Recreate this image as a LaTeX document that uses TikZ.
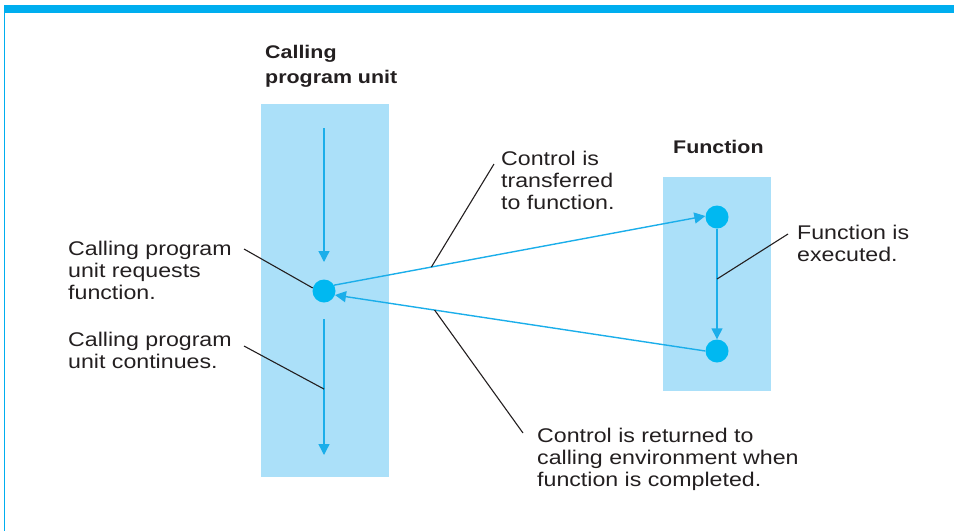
\documentclass[tikz,border=0pt]{standalone}
\usepackage{fontspec}
\setmainfont{Liberation Sans}[FakeStretch=1.17]
\usetikzlibrary{arrows.meta}
\definecolor{barblue}{HTML}{00AEEF}
\definecolor{boxblue}{HTML}{ABE0F9}
\definecolor{dotblue}{HTML}{00B8F1}
\definecolor{lineblue}{HTML}{1BAEEA}
\definecolor{ink}{HTML}{231F20}
\newcommand\mlines[1]{\begin{tabular}[t]{@{}l@{}}#1\end{tabular}}
\tikzset{
  panel/.style={fill=boxblue, draw=none, inner sep=0, anchor=north west},
  dot/.style={circle, fill=dotblue, draw=none, minimum size=23pt, inner sep=0},
  flow/.style={draw=lineblue, line width=1.4pt, -{Triangle[length=11pt,width=11pt]}},
  callout/.style={draw=ink, line width=1.1pt},
  label/.style={anchor=base west, inner sep=0, text=ink, font=\fontsize{19.8}{22}\selectfont},
  title/.style={anchor=base west, inner sep=0, text=ink, font=\fontsize{18.3}{23.5}\selectfont\bfseries},
}
\begin{document}
\begin{tikzpicture}[x=1pt,y=-1pt]
\useasboundingbox (0,0) rectangle (954,531);
% frame
\fill[barblue] (4,5) rectangle (954,12.5);
\draw[barblue, line width=0.9pt] (4.5,12) -- (4.5,531);
% panels
\node[panel, minimum width=128pt, minimum height=373pt] (boxL) at (261,104) {};
\node[panel, minimum width=108pt, minimum height=214pt] (boxF) at (663,177) {};
% titles
\node[title] (tCall) at (265,58) {\mlines{Calling\\[1.5pt] program unit}};
\node[title] (tFun) at (673,153) {Function};
% dots
\node[dot] (dotL) at (324,291) {};
\node[dot] (dotF1) at (717,217) {};
\node[dot] (dotF2) at (717,351) {};
% vertical arrows in calling unit
\coordinate (a1s) at (324,128);
\coordinate (a1e) at (324,262);
\coordinate (a2s) at (324,319);
\coordinate (a2e) at (324,455);
\draw[flow] (a1s) -- (a1e);
\draw[flow] (a2s) -- coordinate[pos=0.515] (cCont) (a2e);
% function execution
\draw[flow] (dotF1) -- coordinate[pos=0.455] (cExec) (dotF2);
% transfer and return
\draw[flow] (dotL.30) -- coordinate[pos=0.262] (cTrans) (dotF1.175);
\draw[flow] (dotF2.180) -- coordinate[pos=0.731] (cRet) (dotL.-20);
% labels
\node[label] (tReq) at (68,255) {\mlines{Calling program\\unit requests\\function.}};
\node[label] (tCont) at (68,346) {\mlines{Calling program\\unit continues.}};
\node[label] (tTrans) at (501,165) {\mlines{Control is\\transferred\\to function.}};
\node[label] (tExec) at (797,239) {\mlines{Function is\\executed.}};
\node[label] (tRet) at (537,442) {\mlines{Control is returned to\\calling environment when\\function is completed.}};
% callout free ends
\coordinate (sReq) at (244,249);
\coordinate (sCont) at (244,346);
\coordinate (sTrans) at (494,164);
\coordinate (sExec) at (788,234);
\coordinate (sRet) at (523,433);
\draw[callout] (sReq) -- (dotL.165);
\draw[callout] (sCont) -- (cCont);
\draw[callout] (sTrans) -- (cTrans);
\draw[callout] (sExec) -- (cExec);
\draw[callout] (sRet) -- (cRet);
\end{tikzpicture}
\end{document}
